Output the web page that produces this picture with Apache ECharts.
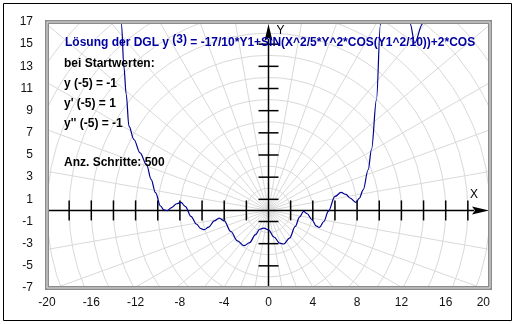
<!DOCTYPE html>
<html><head><meta charset="utf-8">
<script src="https://cdn.jsdelivr.net/npm/echarts@6/dist/echarts.min.js"></script>
<style>html,body{margin:0;padding:0;background:#fff}#c{width:515px;height:324px}</style>
</head><body><div id="c"></div>
<script>
// ---- data ----
const xMin = -20, xMax = 20, xStep = 4;
const yMin = -7, yMax = 17, yStep = 2;
const xAxisTicks = [-18,-16,-14,-12,-10,-8,-6,-4,-2,2,4,6,8,10,12,14,16,18];
const yAxisTicks = [-5,-3,-1,1,3,5,7,9,11,13,15];
const circleRadii = [2,4,6,8,10,12,14,16,18,20,22,24,26,28,30];
const spokeAngles = [0,10,20,30,40,50,60,70,80,90,100,110,120,130,140,150,160,170,180,190,200,210,220,230,240,250,260,270,280,290,300,310,320,330,340,350];
const curveX = [-13.4,-13.27,-13.06,-12.85,-12.6,-12.15,-11.6,-11.0,-10.6,-10.2,-9.75,-9.45,-9.15,-8.75,-8.3,-7.9,-7.5,-7.0,-6.5,-6.1,-5.8,-5.4,-4.9,-4.45,-4.0,-3.4,-2.8,-2.2,-1.7,-1.17,-0.8,-0.42,0,0.5,1.0,1.37,1.9,2.42,2.8,3.17,3.5,3.92,4.3,4.6,5.0,5.4,6.0,6.55,7.0,7.35,7.89,8.2,8.55,9.0,9.3,9.75,10.1,10.2,null,12.7,12.8,13.2,13.9,14.0];
const curveY = [17.8,16.75,13.0,10.5,7.6,6.4,5.2,4.1,2.8,1.6,0.4,0.05,-0.02,0.25,0.6,0.72,0.35,-0.54,-1.25,-1.65,-1.74,-1.5,-0.95,-0.69,-0.95,-1.9,-2.75,-3.18,-2.9,-2.19,-1.7,-1.59,-1.75,-2.4,-2.95,-3.03,-2.5,-1.44,-0.6,-0.09,-0.3,-0.84,-1.4,-1.53,-1.0,-0.09,1.26,1.62,1.45,1.12,0.72,1.1,1.86,3.67,5.5,10.0,16.7,18.5,null,18.5,16.8,15.1,16.8,18.5];
const titleParts = ['Lösung der DGL y ', '(3)', ' = -17/10*Y1+SIN(X^2/5*Y^2*COS(Y1^2/10))+2*COS(Y1)'];
const infoLines = ['bei Startwerten:', 'y (-5) = -1', "y' (-5) = 1", "y'' (-5) = -1", '', 'Anz. Schritte: 500'];

// ---- chart ----
const chart = echarts.init(document.getElementById('c'), null, {renderer:'canvas'});
const FONT = '"Liberation Sans", Arial, sans-serif';
const GRIDC = '#d9d9d9';
const curveData = curveX.map((x, i) => x === null ? '-' : [x, curveY[i]]);

function polarGrid(params, api) {
  const c = api.coord([0, 0]);
  const ux = api.size([1, 0])[0];
  const ch = [];
  circleRadii.forEach(r => ch.push({type:'circle', shape:{cx:c[0], cy:c[1], r:r*ux}, style:{fill:'none', stroke:GRIDC, lineWidth:1}}));
  spokeAngles.forEach(a => {
    const t = a * Math.PI / 180;
    ch.push({type:'line', shape:{x1:c[0], y1:c[1], x2:c[0] + 700*Math.cos(t), y2:c[1] - 700*Math.sin(t)}, style:{stroke:GRIDC, lineWidth:1}});
  });
  return {type:'group', children:ch};
}

function axesItem(params, api) {
  const o = api.coord([0, 0]);
  const xl = api.coord([xMin, 0]), xr = api.coord([xMax, 0]);
  const yb = api.coord([0, yMin]), yt = api.coord([0, yMax]);
  const ch = [];
  const AL = 17, AW = 4;
  const tipX = xr[0] - 1, tipY = yt[1] + 2;
  ch.push({type:'line', shape:{x1:xl[0], y1:o[1], x2:tipX - AL + 2, y2:o[1]}, style:{stroke:'#000', lineWidth:1.5}});
  ch.push({type:'polygon', shape:{points:[[tipX, o[1]], [tipX - AL, o[1] - AW], [tipX - AL + 3, o[1]], [tipX - AL, o[1] + AW]]}, style:{fill:'#000'}});
  ch.push({type:'line', shape:{x1:o[0], y1:yb[1], x2:o[0], y2:tipY + AL - 2}, style:{stroke:'#000', lineWidth:1.5}});
  ch.push({type:'polygon', shape:{points:[[o[0], tipY], [o[0] - AW, tipY + AL], [o[0], tipY + AL - 3], [o[0] + AW, tipY + AL]]}, style:{fill:'#000'}});
  xAxisTicks.forEach(v => { const p = api.coord([v, 0]); ch.push({type:'line', shape:{x1:p[0], y1:p[1] - 10, x2:p[0], y2:p[1] + 10}, style:{stroke:'#000', lineWidth:1.5}}); });
  yAxisTicks.forEach(v => { const p = api.coord([0, v]); ch.push({type:'line', shape:{x1:p[0] - 10, y1:p[1], x2:p[0] + 10, y2:p[1]}, style:{stroke:'#000', lineWidth:1.5}}); });
  ch.push({type:'text', x:tipX - 15, y:o[1] - 16, style:{text:'X', font:'12px ' + FONT, fill:'#000', align:'center', verticalAlign:'middle'}});
  ch.push({type:'text', x:o[0] + 12, y:tipY + 7, style:{text:'Y', font:'12px ' + FONT, fill:'#000', align:'center', verticalAlign:'middle'}});
  return {type:'group', children:ch};
}

function frameItem(params, api) {
  const a = api.coord([xMin, yMax]), b = api.coord([xMax, yMin]);
  const sh = {x:a[0], y:a[1], width:b[0] - a[0], height:b[1] - a[1]};
  return {type:'group', children:[
    {type:'rect', shape:sh, style:{fill:'none', stroke:'#8c8c8c', lineWidth:4}},
    {type:'rect', shape:sh, style:{fill:'none', stroke:'#e2e2e2', lineWidth:1}}
  ]};
}

// measure title parts
const cv = document.createElement('canvas').getContext('2d');
cv.font = 'bold 12px ' + FONT;
const w0 = cv.measureText(titleParts[0]).width;
const w1 = cv.measureText(titleParts[1]).width;
const tx = 65, ty = 43;
const graphics = [
  {type:'rect', shape:{x:3.5, y:3.5, width:508, height:317}, style:{fill:'none', stroke:'#000', lineWidth:1}, z:100},
  {type:'text', x:tx, y:ty, style:{text:titleParts[0], font:'bold 12px ' + FONT, fill:'#0000a0', verticalAlign:'middle'}, z:100},
  {type:'text', x:tx + w0, y:ty - 3, style:{text:titleParts[1], font:'bold 12px ' + FONT, fill:'#0000a0', verticalAlign:'middle'}, z:100},
  {type:'text', x:tx + w0 + w1, y:ty, style:{text:titleParts[2], font:'bold 12px ' + FONT, fill:'#0000a0', verticalAlign:'middle', width:479 - (tx + w0 + w1), overflow:'truncate', ellipsis:''}, z:100}
];
const infoY = [64, 84, 104, 124, 144, 163];
infoLines.forEach((t, i) => { if (t) graphics.push({type:'text', x:64, y:infoY[i], style:{text:t, font:'bold 12px ' + FONT, fill:'#000', verticalAlign:'middle'}, z:100}); });

chart.setOption({
  animation:false,
  backgroundColor:'#fff',
  grid:{left:47, right:25, top:22, bottom:36, show:false},
  xAxis:{type:'value', min:xMin, max:xMax, interval:xStep, axisLine:{show:false}, axisTick:{show:false}, splitLine:{show:false},
    axisLabel:{color:'#111', fontSize:12, fontFamily:FONT, margin:9, showMinLabel:true, showMaxLabel:true, alignMaxLabel:'right'}},
  yAxis:{type:'value', min:yMin, max:yMax, interval:yStep, axisLine:{show:false}, axisTick:{show:false}, splitLine:{show:false},
    axisLabel:{color:'#111', fontSize:12, fontFamily:FONT, margin:14, showMinLabel:true, showMaxLabel:true}},
  graphic:graphics,
  series:[
    {type:'custom', renderItem:polarGrid, data:[[0,0]], clip:true, silent:true, z:1},
    {type:'custom', renderItem:axesItem, data:[[0,0]], silent:true, z:3},
    {type:'line', data:curveData, showSymbol:false, smooth:0.35, smoothMonotone:'x', clip:true, connectNulls:false,
      lineStyle:{color:'#000090', width:1.2}, z:4},
    {type:'custom', renderItem:frameItem, data:[[0,0]], silent:true, z:5}
  ]
});
</script></body></html>
